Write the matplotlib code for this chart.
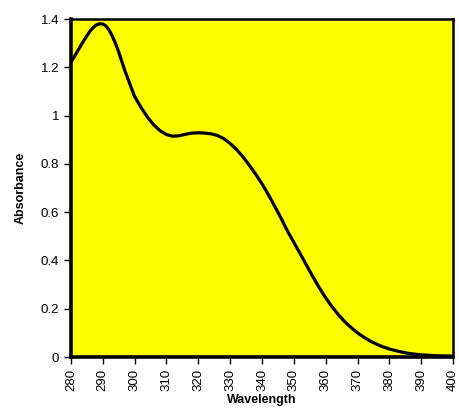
import matplotlib
matplotlib.use("Agg")
import matplotlib.pyplot as plt

plt.rcParams["font.family"] = ["Liberation Sans", "DejaVu Sans"]

# Spectrum values
wavelength = [280, 282, 284, 286, 287, 288, 289, 290, 291, 292, 293, 294, 295,
              296, 297, 298, 300, 302, 304, 306, 308, 310, 312, 314, 316, 318,
              320, 322, 324, 326, 328, 330, 332, 334, 336, 338, 340, 342, 344,
              346, 348, 350, 352, 354, 356, 358, 360, 362, 364, 366, 368, 370,
              372, 374, 376, 378, 380, 383, 386, 390, 395, 400]
absorbance = [1.22, 1.265, 1.31, 1.35, 1.365, 1.376, 1.381, 1.38, 1.372, 1.355,
              1.33, 1.3, 1.265, 1.225, 1.185, 1.15, 1.08, 1.035, 0.995, 0.962,
              0.938, 0.922, 0.915, 0.917, 0.923, 0.928, 0.929, 0.928, 0.925,
              0.918, 0.905, 0.885, 0.86, 0.83, 0.795, 0.758, 0.718, 0.673,
              0.625, 0.575, 0.522, 0.475, 0.428, 0.38, 0.332, 0.287, 0.245,
              0.208, 0.175, 0.146, 0.122, 0.1, 0.082, 0.066, 0.053, 0.042,
              0.033, 0.023, 0.015, 0.009, 0.005, 0.004]
xticks = list(range(280, 401, 10))
yticks = [0, 0.2, 0.4, 0.6, 0.8, 1, 1.2, 1.4]
yticklabels = ["0", "0.2", "0.4", "0.6", "0.8", "1", "1.2", "1.4"]

fig = plt.figure(figsize=(4.6, 4.08), dpi=100)
ax = fig.add_axes([0.154, 0.125, 0.831, 0.828])
ax.set_facecolor("#ffff00")

ax.plot(wavelength, absorbance, color="black", linewidth=2.3,
        solid_capstyle="round", solid_joinstyle="round")

ax.set_xlim(280, 400)
ax.set_ylim(0, 1.4)
ax.set_xticks(xticks)
ax.set_xticklabels([str(t) for t in xticks], rotation=90)
ax.set_yticks(yticks)
ax.set_yticklabels(yticklabels)
ax.tick_params(direction="out", length=5, width=1, labelsize=9.5, colors="black")

for side in ["left", "bottom"]:
    ax.spines[side].set_linewidth(2.6)
for side in ["top", "right"]:
    ax.spines[side].set_linewidth(1.8)

ax.set_xlabel("Wavelength", fontsize=9, fontweight="bold", labelpad=2)
ax.set_ylabel("Absorbance", fontsize=9, fontweight="bold", labelpad=10)

fig.savefig("out.png", dpi=100)
